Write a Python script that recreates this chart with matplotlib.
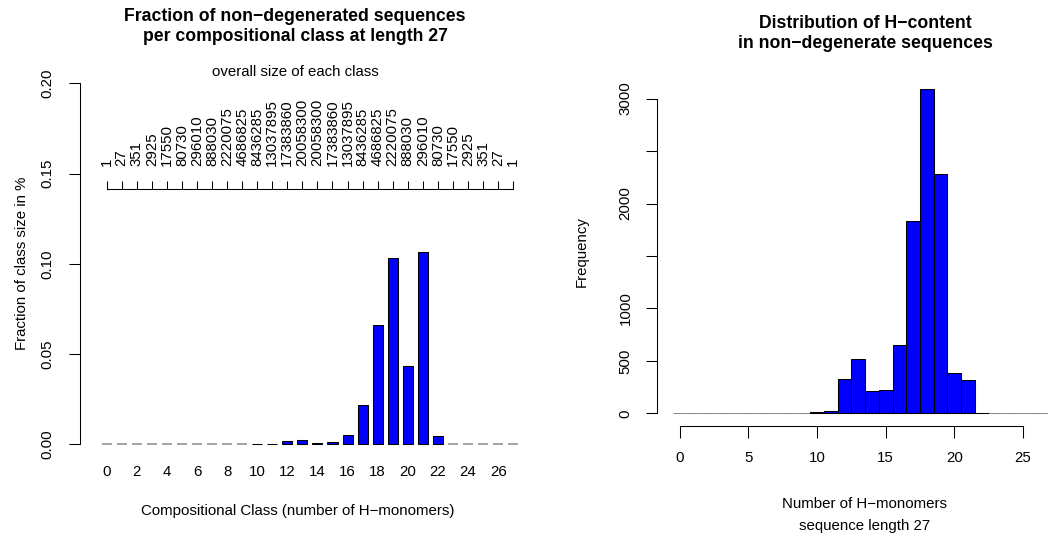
import matplotlib
matplotlib.use("Agg")
import matplotlib.pyplot as plt

plt.rcParams['font.family'] = ['Liberation Sans', 'DejaVu Sans']
plt.rcParams['axes.linewidth'] = 0.75

W, H = 1048, 538
FS = 10.8          # regular text size
TFS = 12.7         # title size

# ---- data -------------------------------------------------------------
# compositional classes of a length-27 HP chain (number of H-monomers)
classes = list(range(28))
class_sizes = [1, 27, 351, 2925, 17550, 80730, 296010, 888030, 2220075,
               4686825, 8436285, 13037895, 17383860, 20058300, 20058300,
               17383860, 13037895, 8436285, 4686825, 2220075, 888030,
               296010, 80730, 17550, 2925, 351, 27, 1]
# fraction of non-degenerated sequences in each class (%)
fraction_pct = [0, 0, 0, 0, 0, 0, 0, 0, 0, 0,
                0.0004, 0.0004, 0.0018, 0.0026, 0.0009, 0.0012, 0.0050,
                0.0218, 0.0661, 0.1031, 0.0435, 0.1064, 0.0048,
                0, 0, 0, 0, 0]
class_ticks = [0, 2, 4, 6, 8, 10, 12, 14, 16, 18, 20, 22, 24, 26]
frac_ticks = [0.00, 0.05, 0.10, 0.15, 0.20]

# histogram of H-content (bins of width 1 centred on each count)
h_counts = [0, 0, 0, 0, 0, 0, 0, 0, 0, 0,
            8, 25, 330, 518, 213, 219, 651, 1836, 3089, 2281, 388, 318, 6,
            0, 0, 0, 0, 0]
hist_ticks = [0, 5, 10, 15, 20, 25]
freq_ticks = [0, 500, 1000, 1500, 2000, 2500, 3000]
freq_labels = ['0', '500', '1000', '', '2000', '', '3000']


def box(x0, y0, x1, y1):
    """Pixel rectangle (top-left origin) -> figure fraction rectangle."""
    return [x0 / W, 1 - y1 / H, (x1 - x0) / W, (y1 - y0) / H]


def ftext(x, y, s, **kw):
    fig.text(x / W, 1 - y / H, s, **kw)


fig = plt.figure(figsize=(W / 100, H / 100), dpi=100)

# ---- left panel: bar chart of fractions ------------------------------
ax1 = fig.add_axes(box(79.5, 68.9, 516.2, 458.7))
ax1.set_xlim(-1.8, 27.2)
ax1.set_ylim(-0.008, 0.208)
edge1 = ['black' if v > 0 else '#8c8c8c' for v in fraction_pct]
lw1 = [0.75 if v > 0 else 1.1 for v in fraction_pct]
ax1.bar(classes, fraction_pct, width=2 / 3, color='#0000ff',
        edgecolor=edge1, linewidth=lw1, clip_on=False)

for s in ('top', 'right', 'bottom'):
    ax1.spines[s].set_visible(False)
ax1.spines['left'].set_bounds(0, 0.2)
ax1.set_yticks(frac_ticks, [f'{t:.2f}' for t in frac_ticks],
               rotation=90, va='center')
ax1.tick_params(axis='y', length=7.9, width=0.75, pad=10, labelsize=FS)
ax1.set_xticks(class_ticks, [str(c) for c in class_ticks])
ax1.tick_params(axis='x', length=0, pad=4.5, labelsize=FS)

# axis carrying the overall size of each compositional class
sec = ax1.secondary_xaxis(0.1413, transform=ax1.transData)
sec.set_alignment('top')
sec.set_xticks(classes, [str(n) for n in class_sizes], rotation=90)
sec.tick_params(axis='x', direction='out', length=6, width=0.75, pad=10.5,
                labelsize=FS)
sec.spines['top'].set_bounds(classes[0], classes[-1])
sec.spines['top'].set_linewidth(0.75)

ftext(295, 20.7, 'Fraction of non\u2212degenerated sequences',
      ha='center', va='baseline', fontsize=TFS, fontweight='bold')
ftext(295, 40.7, 'per compositional class at length 27',
      ha='center', va='baseline', fontsize=TFS, fontweight='bold')
ftext(295, 71.7, 'overall size of each class', ha='center', va='center',
      fontsize=FS)
ftext(21.7, 263.8, 'Fraction of class size in %', ha='center', va='center',
      rotation=90, fontsize=FS)
ftext(298, 511, 'Compositional Class (number of H\u2212monomers)',
      ha='center', va='center', fontsize=FS)

# ---- right panel: histogram of H-content -----------------------------
ax2 = fig.add_axes(box(657.3, 76.3, 1072.8, 426.3))
ax2.set_xlim(-1.62, 28.62)
ax2.set_ylim(-123.6, 3212.6)
edge2 = ['black' if v > 0 else '#8c8c8c' for v in h_counts]
ax2.bar(classes, h_counts, width=1.0, color='#0000ff',
        edgecolor=edge2, linewidth=0.75)

for s in ('top', 'right'):
    ax2.spines[s].set_visible(False)
ax2.spines['left'].set_bounds(0, 3000)
ax2.spines['bottom'].set_bounds(0, 25)
ax2.set_yticks(freq_ticks, freq_labels, rotation=90, va='center')
ax2.tick_params(axis='y', length=7.9, width=0.75, pad=10, labelsize=FS)
ax2.set_xticks(hist_ticks, [str(t) for t in hist_ticks])
ax2.tick_params(axis='x', length=8.4, width=0.75, pad=9.5, labelsize=FS)

ftext(865, 27.5, 'Distribution of H\u2212content',
      ha='center', va='baseline', fontsize=TFS, fontweight='bold')
ftext(865, 47.5, 'in non\u2212degenerate sequences',
      ha='center', va='baseline', fontsize=TFS, fontweight='bold')
ftext(581.7, 251.3, 'Frequency', ha='center', va='center',
      rotation=90, fontsize=FS)
ftext(865, 504, 'Number of H\u2212monomers', ha='center', va='center',
      fontsize=FS)
ftext(865, 526, 'sequence length 27', ha='center', va='center',
      fontsize=FS)

fig.savefig('out.png', dpi=100)
